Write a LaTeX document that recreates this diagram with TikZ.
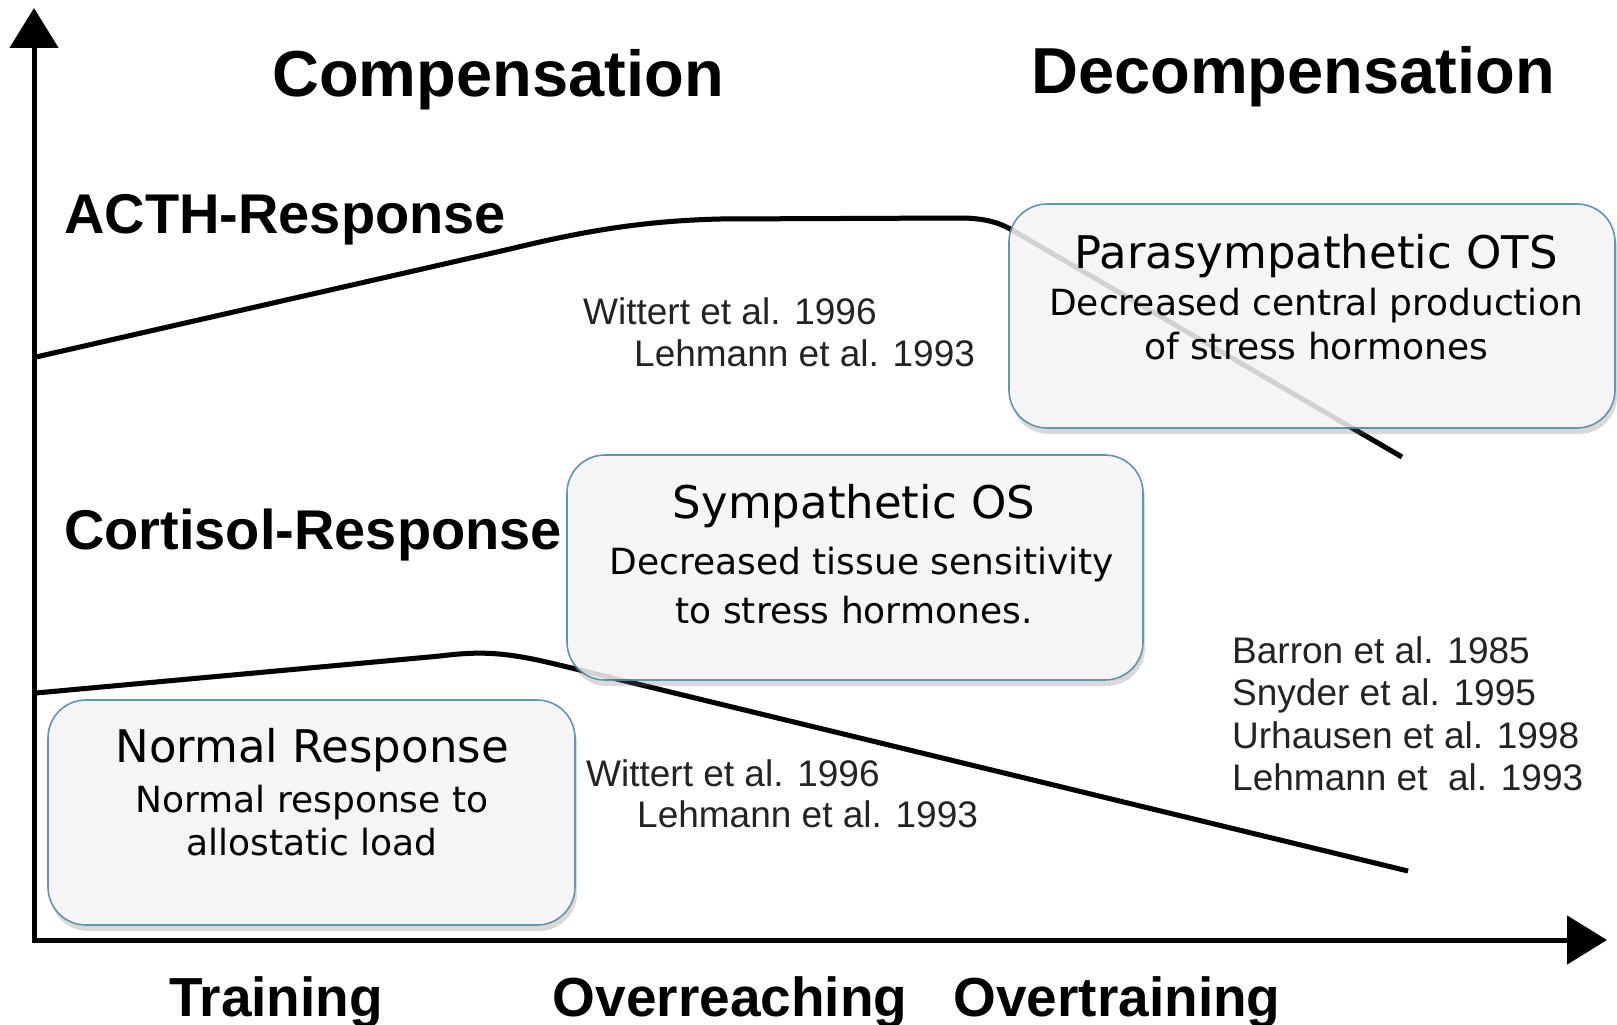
\documentclass[tikz,border=0pt]{standalone}
\usepackage{fontspec}
\setmainfont{Liberation Sans}
\newfontfamily\boxfont{DejaVu Sans}
\usetikzlibrary{arrows.meta,shadows}
\definecolor{boxedge}{RGB}{95,150,172}
\definecolor{boxfill}{RGB}{245,245,245}
\definecolor{reftext}{RGB}{35,35,35}
\begin{document}
\begin{tikzpicture}[x=1pt,y=-1pt,
  axisline/.style={line width=5pt, black, line join=miter},
  curve/.style={line width=5pt, black, line join=round},
  curveghost/.style={line width=5pt, black, draw opacity=0.14, line join=round},
  infobox/.style={draw=boxedge, line width=1.6pt, fill=boxfill, rounded corners=38pt,
     drop shadow={shadow xshift=2pt, shadow yshift=-6pt, opacity=0.3}},
  headlbl/.style={font=\fontsize{65}{70}\selectfont\bfseries, anchor=base, inner sep=0pt},
  resplbl/.style={font=\fontsize{56}{60}\selectfont\bfseries, anchor=base west, inner sep=0pt},
  phaselbl/.style={font=\fontsize{55}{60}\selectfont\bfseries, anchor=base, inner sep=0pt},
  reflbl/.style={font=\fontsize{37}{40}\selectfont, text=reftext, anchor=base west, inner sep=0pt},
  boxtitle/.style={font=\boxfont\fontsize{45}{50}\selectfont, anchor=base, inner sep=0pt},
  boxsub/.style={font=\boxfont\fontsize{36}{40}\selectfont, anchor=base, inner sep=0pt}
]
\useasboundingbox (0,0) rectangle (1617,1025);

% axes
\coordinate (ytip) at (34,8);
\coordinate (origin) at (34,940);
\coordinate (xtip) at (1607,940);
\draw[axisline, {Triangle[length=40pt,width=48pt]}-{Triangle[length=40pt,width=48pt]}] (ytip) -- (origin) -- (xtip);

% curves
\coordinate (acthA) at (36,357);
\coordinate (acthB) at (1402,457);
\coordinate (cortA) at (36,693);
\coordinate (cortB) at (1408,871);
\newcommand{\acthpath}{(acthA) -- (510,249) .. controls (580,232) and (640,221) .. (720,219) -- (960,218) .. controls (985,218) and (1000,223) .. (1012,230) -- (acthB)}
\newcommand{\cortpath}{(cortA) -- (440,656) .. controls (480,651) and (505,652) .. (555,664) -- (cortB)}
\draw[curve] \acthpath;
\draw[curve] \cortpath;

% boxes
\node[infobox, minimum width=606pt, minimum height=224pt] (para) at (1312,316) {};
\node[infobox, minimum width=576pt, minimum height=225pt] (symp) at (855,567.5) {};
\node[infobox, minimum width=527pt, minimum height=225pt] (norm) at (311.5,812.5) {};

% ghost of curves behind the boxes
\draw[curveghost] \acthpath;
\draw[curveghost] \cortpath;

% box texts
\node[boxtitle] (paraT) at (1316,268) {Parasympathetic OTS};
\node[boxsub] (paraS1) at (1316,315) {Decreased central production};
\node[boxsub] (paraS2) at (1316,359) {of stress hormones};
\node[boxtitle] (sympT) at (854,518) {Sympathetic OS};
\node[boxsub] (sympS1) at (862,574) {Decreased tissue sensitivity};
\node[boxsub] (sympS2) at (854,623) {to stress hormones.};
\node[boxtitle] (normT) at (312,762) {Normal Response};
\node[boxsub] (normS1) at (312,812) {Normal response to};
\node[boxsub] (normS2) at (312,855) {allostatic load};

% headings
\node[headlbl] (comp) at (498,96) {Compensation};
\node[headlbl] (decomp) at (1293,93) {Decompensation};
\node[resplbl] (acth) at (64,233) {ACTH-Response};
\node[resplbl] (cort) at (64,549) {Cortisol-Response};

% references
\node[reflbl] (w1) at (583,324) {Wittert et al. 1996};
\node[reflbl] (l1) at (634,366) {Lehmann et al. 1993};
\node[reflbl] (w2) at (586,786) {Wittert et al. 1996};
\node[reflbl] (l2) at (637,827) {Lehmann et al. 1993};
\node[reflbl] (r1) at (1232,663) {Barron et al. 1985};
\node[reflbl] (r2) at (1232,705) {Snyder et al. 1995};
\node[reflbl] (r3) at (1232,748) {Urhausen et al. 1998};
\node[reflbl] (r4) at (1232,790) {Lehmann et\ \ al. 1993};

% phases
\node[phaselbl] (train) at (276,1016) {Training};
\node[phaselbl] (overr) at (730,1016) {Overreaching};
\node[phaselbl] (overt) at (1117,1016) {Overtraining};
\end{tikzpicture}
\end{document}
